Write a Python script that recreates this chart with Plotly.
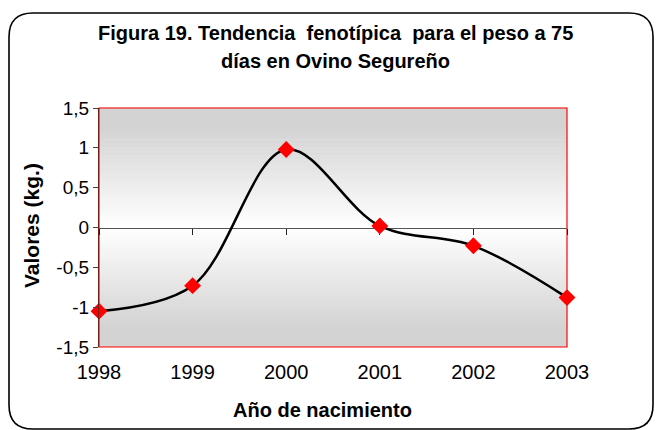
import plotly.graph_objects as go

# ---- data ----
years = [1998, 1999, 2000, 2001, 2002, 2003]
values = [-1.05, -0.73, 0.98, 0.02, -0.23, -0.88]
year_labels = ["1998", "1999", "2000", "2001", "2002", "2003"]
y_tickvals = [-1.5, -1.0, -0.5, 0.0, 0.5, 1.0, 1.5]
y_ticktext = ["-1,5", "-1", "-0,5", "0", "0,5", "1", "1,5"]

title_line1 = "Figura 19. Tendencia  fenotípica  para el peso a 75"
title_line2 = "días en Ovino Segureño"
x_title = "Año de nacimiento"
y_title = "Valores (kg.)"

W, H = 656, 430
ML, MR, MT, MB = 99, 89, 108, 83
PW, PH = W - ML - MR, H - MT - MB
FONT = "Liberation Sans, Arial, sans-serif"


def px_x(px):
    return (px - ML) / PW


def px_y(py):
    return (H - MB - py) / PH


fig = go.Figure()

# invisible trace to attach the zero-line axis
fig.add_trace(go.Scatter(x=[years[0], years[-1]], y=[0, 0], xaxis="x2", yaxis="y",
                         mode="lines", line=dict(width=0), hoverinfo="skip",
                         showlegend=False))

fig.add_trace(go.Scatter(
    x=years, y=values, mode="lines+markers",
    line=dict(color="black", width=2.5, shape="spline", smoothing=1.0),
    marker=dict(symbol="diamond", size=13, color="#ff0000"),
    cliponaxis=False, showlegend=False,
))

shapes = []
# vertical gradient background: grey at top/bottom, white at centre
n = 60
top_c, mid_c = 211, 255
for i in range(n):
    f0, f1 = i / n, (i + 1) / n
    c = (f0 + f1) / 2
    d = abs(c - 0.5) / 0.5  # 0 at centre, 1 at edges
    v = int(round(mid_c - (mid_c - top_c) * min(1.0, d * 1.2)))
    shapes.append(dict(type="rect", xref="paper", yref="paper", x0=0, x1=1,
                       y0=f0, y1=f1 + 0.002, line=dict(width=0),
                       fillcolor=f"rgb({v},{v},{v})", layer="below"))
# red plot-area border
shapes.append(dict(type="rect", xref="paper", yref="paper", x0=0, x1=1, y0=0, y1=1,
                   line=dict(color="#ff0000", width=1.2), layer="below"))

# outer rounded frame
L, R, T, B, r = 9, 653, 13, 429, 24
pts = dict(
    a=(px_x(L + r), px_y(T)), b=(px_x(R - r), px_y(T)), c=(px_x(R), px_y(T)),
    d=(px_x(R), px_y(T + r)), e=(px_x(R), px_y(B - r)), f=(px_x(R), px_y(B)),
    g=(px_x(R - r), px_y(B)), h=(px_x(L + r), px_y(B)), i=(px_x(L), px_y(B)),
    j=(px_x(L), px_y(B - r)), k=(px_x(L), px_y(T + r)), l=(px_x(L), px_y(T)),
)
p = {k: f"{v[0]:.5f},{v[1]:.5f}" for k, v in pts.items()}
path = (f"M {p['a']} L {p['b']} Q {p['c']} {p['d']} L {p['e']} Q {p['f']} {p['g']} "
        f"L {p['h']} Q {p['i']} {p['j']} L {p['k']} Q {p['l']} {p['a']} Z")
shapes.append(dict(type="path", xref="paper", yref="paper", path=path,
                   line=dict(color="black", width=1.6), layer="above"))

annotations = [
    dict(text=f"<b>{title_line1}</b>", xref="paper", yref="paper",
         x=px_x(335), y=px_y(33), showarrow=False,
         font=dict(family=FONT, size=20, color="black"), xanchor="center", yanchor="middle"),
    dict(text=f"<b>{title_line2}</b>", xref="paper", yref="paper",
         x=px_x(335), y=px_y(61), showarrow=False,
         font=dict(family=FONT, size=20, color="black"), xanchor="center", yanchor="middle"),
    dict(text=f"<b>{x_title}</b>", xref="paper", yref="paper",
         x=px_x(322), y=px_y(410), showarrow=False,
         font=dict(family=FONT, size=20, color="black"), xanchor="center", yanchor="middle"),
    dict(text=f"<b>{y_title}</b>", xref="paper", yref="paper",
         x=px_x(31), y=px_y(226), showarrow=False, textangle=-90,
         font=dict(family=FONT, size=21, color="black"), xanchor="center", yanchor="middle"),
]

fig.update_layout(
    width=W, height=H,
    margin=dict(l=ML, r=MR, t=MT, b=MB),
    paper_bgcolor="white", plot_bgcolor="white",
    font=dict(family=FONT, size=20, color="black"),
    shapes=shapes, annotations=annotations, showlegend=False,
    xaxis=dict(range=[1998, 2003], tickvals=years, ticktext=year_labels,
               showgrid=False, zeroline=False, showline=False,
               ticks="outside", ticklen=7, tickcolor="rgba(0,0,0,0)",
               tickfont=dict(family=FONT, size=20)),
    xaxis2=dict(range=[1998, 2003], overlaying="x", anchor="free", position=0.5,
                tickvals=years, showticklabels=False, showgrid=False, zeroline=False,
                showline=True, linecolor="#555555", linewidth=1.2,
                ticks="outside", ticklen=6, tickcolor="#222222", tickwidth=1,
                layer="below traces"),
    yaxis=dict(range=[-1.5, 1.5], tickvals=y_tickvals, ticktext=y_ticktext,
               showgrid=False, zeroline=False, showline=True,
               linecolor="#7a1a1a", linewidth=1.2,
               ticks="outside", ticklen=5, tickcolor="#444444",
               tickfont=dict(family=FONT, size=19)),
)

fig.write_html("out.html", config={"displayModeBar": False},
               post_script="document.body.style.margin='0';")
